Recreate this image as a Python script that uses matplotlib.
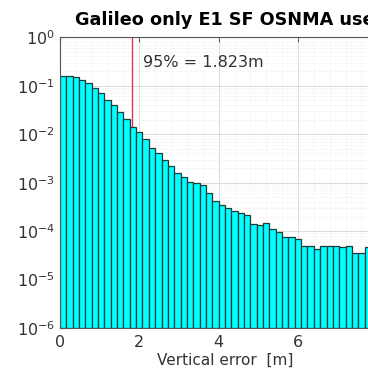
import numpy as np
import matplotlib.pyplot as plt
from matplotlib.ticker import MultipleLocator, FixedLocator, LogLocator, NullFormatter

plt.rcParams['font.family'] = 'DejaVu Sans'
plt.rcParams['mathtext.default'] = 'regular'

# histogram of vertical error (normalised counts), bin width 0.16 m
bin_width = 0.16
probs = [0.162, 0.157, 0.148, 0.130, 0.111, 0.0875, 0.0711, 0.0502, 0.0396, 0.0288,
         0.0201, 0.0139, 0.0111, 0.00778, 0.00507, 0.0040, 0.00291, 0.00219, 0.00159, 0.00128,
         0.00104, 0.00099, 0.000888, 0.000616, 0.000416, 0.000344, 0.000294, 0.000262, 0.000241, 0.000214,
         0.000139, 0.000133, 0.000144, 0.000111, 9.39e-5, 7.62e-5, 7.62e-5, 6.75e-5, 4.91e-5, 4.75e-5,
         4.2e-5, 4.75e-5, 4.91e-5, 4.91e-5, 4.61e-5, 4.91e-5, 3.47e-5, 3.47e-5, 4.61e-5]
edges = np.arange(len(probs)) * bin_width
p95 = 1.823
xticks = [0, 2, 4, 6]

txt = '#333333'
fig = plt.figure(figsize=(3.68, 3.72), dpi=100)
ax = fig.add_axes([0.163, 0.118, 0.90, 0.782])

ax.axvline(p95, color='#e0384f', lw=1.0, zorder=1)
ax.bar(edges, probs, width=bin_width, align='edge', bottom=1e-6,
       color='#00ffff', edgecolor='#1c3c3c', linewidth=0.9, zorder=2)

ax.set_yscale('log')
ax.set_ylim(1e-6, 1)
ax.set_xlim(0, 8.35)
ax.xaxis.set_major_locator(FixedLocator(xticks))
ax.xaxis.set_minor_locator(MultipleLocator(0.4))
ax.yaxis.set_major_locator(LogLocator(base=10, numticks=10))
ax.yaxis.set_minor_locator(LogLocator(base=10, subs=np.arange(2, 10), numticks=100))
ax.yaxis.set_minor_formatter(NullFormatter())

ax.grid(True, which='major', color='#dcdcdc', lw=0.7, zorder=0)
ax.grid(True, which='minor', color='#e6e6e6', lw=0.5, ls=':', zorder=0)
ax.set_axisbelow(True)

ax.tick_params(which='both', direction='in', top=True, right=True, colors='#555555',
               labelcolor=txt, labelsize=11.5)
ax.tick_params(which='minor', length=0)
ax.tick_params(axis='x', pad=5)
for s in ax.spines.values():
    s.set_color('#555555')
    s.set_linewidth(0.8)

ax.text(2.1, 0.3, '95% = 1.823m', fontsize=11.5, color=txt, va='center', ha='left')
ax.set_xlabel('Vertical error  [m]', fontsize=11, color=txt, labelpad=2)
fig.text(75 / 368, 347 / 372, 'Galileo only E1 SF OSNMA used', fontsize=12.7,
         fontweight='bold', color='black', ha='left', va='baseline')

fig.savefig('out.png', dpi=100)
